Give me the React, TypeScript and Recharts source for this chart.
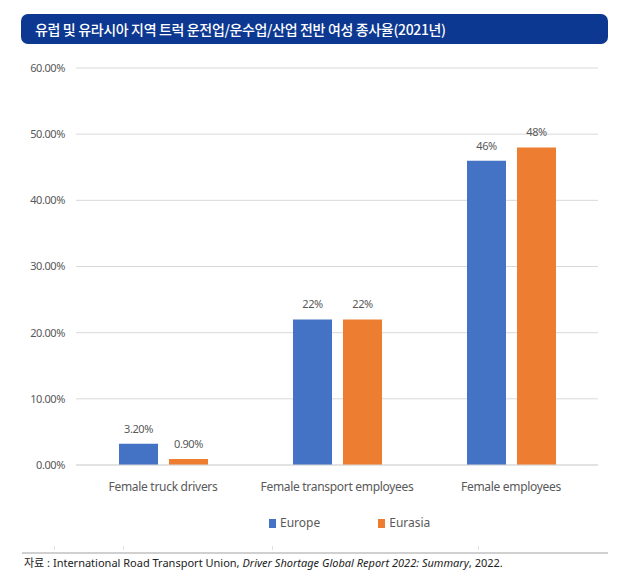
import { Bar, BarChart, CartesianGrid, LabelList, XAxis, YAxis } from 'recharts';

// 유럽/유라시아 여성 종사율 (IRU, Driver Shortage Global Report 2022)
const TITLE = '유럽 및 유라시아 지역 트럭 운전업/운수업/산업 전반 여성 종사율(2021년)';

const categories = ['Female truck drivers', 'Female transport employees', 'Female employees'];
const europe = [0.032, 0.22, 0.46];
const eurasia = [0.009, 0.22, 0.48];
const europeLabels = ['3.20%', '22%', '46%'];
const eurasiaLabels = ['0.90%', '22%', '48%'];
const yTicks = [0, 0.1, 0.2, 0.3, 0.4, 0.5, 0.6];

const BLUE = '#4472c4';
const ORANGE = '#ed7d31';
const TEXT = '#595959';
const FONT = '"Noto Sans", "Noto Sans CJK KR", sans-serif';

const data = categories.map((name, i) => ({
  name,
  europe: europe[i],
  eurasia: eurasia[i],
  europeLabel: europeLabels[i],
  eurasiaLabel: eurasiaLabels[i],
}));

const legendItems = [
  { label: 'Europe', color: BLUE },
  { label: 'Eurasia', color: ORANGE },
];

export default function App() {
  return (
    <div
      style={{
        position: 'absolute',
        left: 0,
        top: 0,
        width: 641,
        height: 586,
        background: '#fff',
        fontFamily: FONT,
      }}
    >
      <BarChart
        width={641}
        height={586}
        data={data}
        margin={{ top: 68, right: 43, bottom: 91, left: 16 }}
        barGap={11}
        barCategoryGap={43}
        style={{ position: 'absolute', left: 0, top: 0 }}
      >
        <CartesianGrid vertical={false} stroke="#d9d9d9" />
        <XAxis
          dataKey="name"
          height={30}
          axisLine={{ stroke: '#d9d9d9' }}
          tickLine={false}
          tickMargin={11}
          tick={{ fontSize: 12, fill: TEXT, fontFamily: FONT, letterSpacing: -0.3 }}
        />
        <YAxis
          width={60}
          domain={[0, 0.6]}
          ticks={yTicks}
          axisLine={false}
          tickLine={false}
          tickMargin={5}
          tickFormatter={(v: number) => `${(v * 100).toFixed(2)}%`}
          tick={{ fontSize: 11, fill: TEXT, fontFamily: FONT, letterSpacing: -0.4 }}
        />
        <Bar dataKey="europe" fill={BLUE} isAnimationActive={false}>
          <LabelList
            dataKey="europeLabel"
            position="top"
            offset={11}
            style={{ fontSize: 11, fill: TEXT, fontFamily: FONT, letterSpacing: -0.4 }}
          />
        </Bar>
        <Bar dataKey="eurasia" fill={ORANGE} isAnimationActive={false}>
          <LabelList
            dataKey="eurasiaLabel"
            position="top"
            offset={11}
            style={{ fontSize: 11, fill: TEXT, fontFamily: FONT, letterSpacing: -0.4 }}
          />
        </Bar>
      </BarChart>

      <div
        style={{
          position: 'absolute',
          left: 21,
          top: 14,
          width: 587,
          height: 30,
          background: '#0d3891',
          borderRadius: 7,
          color: '#fff',
          fontFamily: '"Noto Sans CJK KR", sans-serif',
          fontSize: 14,
          fontWeight: 500,
          letterSpacing: -0.35,
          lineHeight: '30px',
          paddingLeft: 14,
          boxSizing: 'border-box',
          whiteSpace: 'nowrap',
        }}
      >
        {TITLE}
      </div>

      <div
        style={{
          position: 'absolute',
          left: 269,
          top: 514,
          display: 'flex',
          gap: 58,
          fontSize: 12,
          color: TEXT,
          lineHeight: '18px',
        }}
      >
        {legendItems.map((item) => (
          <span key={item.label} style={{ display: 'flex', alignItems: 'center', gap: 4 }}>
            <span style={{ width: 7, height: 9, background: item.color, display: 'inline-block' }} />
            {item.label}
          </span>
        ))}
      </div>

      {[54, 123, 272, 478].map((x) => (
        <div
          key={x}
          style={{ position: 'absolute', left: x, top: 546, width: 1, height: 4, background: '#e2e2e2' }}
        />
      ))}
      <div
        style={{ position: 'absolute', left: 22, top: 552, width: 586, height: 2, background: '#d0d0d0' }}
      />

      <div
        style={{
          position: 'absolute',
          left: 24,
          top: 555,
          fontSize: 11,
          color: '#222',
          letterSpacing: 0,
          lineHeight: '16px',
          whiteSpace: 'nowrap',
        }}
      >
        자료 : International Road Transport Union,{' '}
        <i>Driver Shortage Global Report 2022: Summary</i>, 2022.
      </div>
    </div>
  );
}
